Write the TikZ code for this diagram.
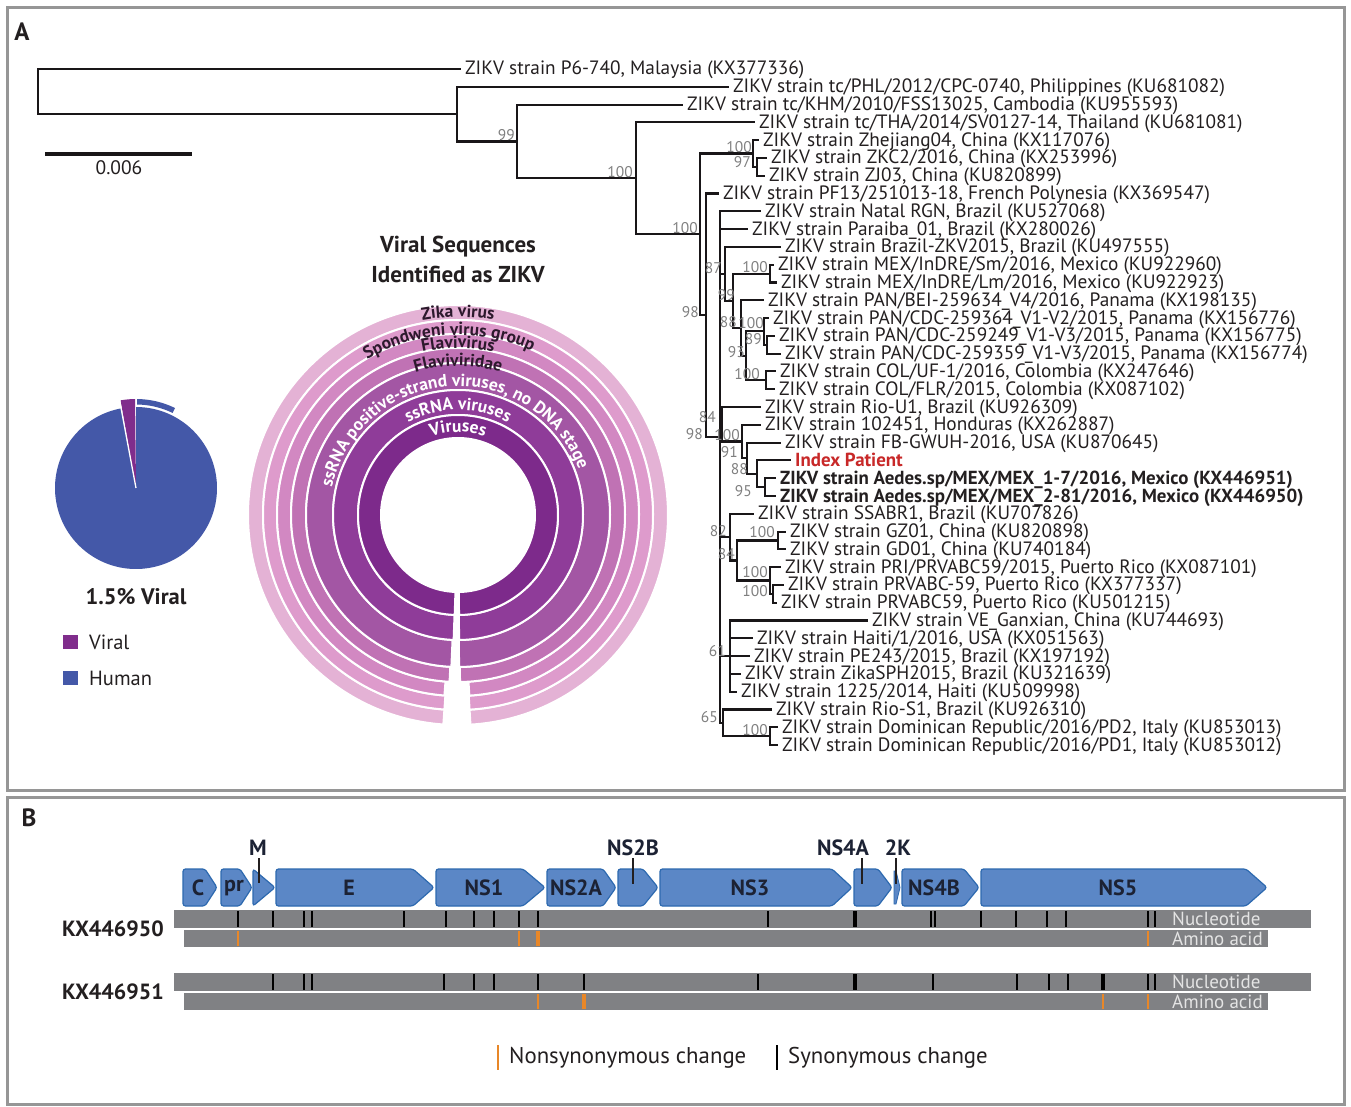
\documentclass[tikz,border=0pt]{standalone}
\usepackage{fontspec}
\setmainfont{PT Sans}
\usetikzlibrary{decorations.text}
\newcommand\zfs[1]{\fontsize{#1}{#1}\selectfont}
\newcommand\rlab{\bfseries\zfs{17.5}}
\definecolor{framec}{RGB}{150,150,150}
\definecolor{treec}{RGB}{25,22,24}
\definecolor{txtc}{RGB}{35,31,32}
\definecolor{labc}{RGB}{128,128,128}
\definecolor{idxred}{RGB}{200,40,40}
\definecolor{humanc}{RGB}{68,88,168}
\definecolor{viralc}{RGB}{128,45,140}
\definecolor{genefill}{RGB}{91,135,198}
\definecolor{geneline}{RGB}{45,105,175}
\definecolor{genetxt}{RGB}{28,34,52}
\definecolor{barc}{RGB}{128,129,132}
\definecolor{orangec}{RGB}{232,135,40}
\definecolor{bartxt}{RGB}{228,228,228}
\definecolor{rgA}{RGB}{125,42,139}
\definecolor{rgB}{RGB}{143,60,153}
\definecolor{rgC}{RGB}{163,86,164}
\definecolor{rgD}{RGB}{192,114,180}
\definecolor{rgE}{RGB}{210,136,194}
\definecolor{rgF}{RGB}{222,155,204}
\definecolor{rgG}{RGB}{228,178,213}
\definecolor{darklab}{RGB}{45,25,45}
\begin{document}
\begin{tikzpicture}[x=1pt,y=-1pt,
  br/.style={line width=2.1pt, draw=treec, line cap=rect},
  leaf/.style={anchor=west, inner sep=0pt, text height=15pt, text depth=3pt, font=\zfs{19.3}, text=txtc},
  bleaf/.style={leaf, font=\bfseries\zfs{18.9}},
  blab/.style={anchor=south east, inner sep=0pt, font=\zfs{15.5}, text=labc},
  panel/.style={draw=framec, line width=3pt},
  plabel/.style={font=\bfseries\zfs{25}, text=txtc, inner sep=0pt},
  ttl/.style={font=\bfseries\zfs{23}, text=txtc, inner sep=0pt},
  gene/.style={fill=genefill, draw=geneline, line width=1.2pt, rounded corners=2.5pt},
  glab/.style={font=\bfseries\zfs{22}, text=genetxt, inner sep=0pt},
  gmark/.style={line width=1.6pt, draw=txtc},
  bar/.style={fill=barc},
  bartext/.style={anchor=west, inner sep=0pt, font=\zfs{19}, text=bartxt},
  syntick/.style={line width=2pt, draw=black},
  synthick/.style={line width=3.6pt, draw=black},
  nontick/.style={line width=2pt, draw=orangec},
  nonthick/.style={line width=3.6pt, draw=orangec},
  legtext/.style={anchor=west, inner sep=0pt, font=\zfs{22.8}, text=txtc}
]
\useasboundingbox (0,0) rectangle (1351,1107);
\fill[white] (0,0) rectangle (1351,1107);

% panels
\draw[panel] (7,8) rectangle (1344,790);
\draw[panel] (7,797) rectangle (1344,1104);
\node[plabel] (pA) at (22,32) {A};
\node[plabel] (pB) at (29,818) {B};

% ---------------- tree leaves ----------------
\node[leaf] (L1) at (465,69.0) {ZIKV strain P6-740, Malaysia (KX377336)};
\node[leaf] (L2) at (733,86.8) {ZIKV strain tc/PHL/2012/CPC-0740, Philippines (KU681082)};
\node[leaf] (L3) at (687,104.6) {ZIKV strain tc/KHM/2010/FSS13025, Cambodia (KU955593)};
\node[leaf] (L4) at (759,122.4) {ZIKV strain tc/THA/2014/SV0127-14, Thailand (KU681081)};
\node[leaf] (L5) at (763,140.2) {ZIKV strain Zhejiang04, China (KX117076)};
\node[leaf] (L6) at (771,158.0) {ZIKV strain ZKC2/2016, China (KX253996)};
\node[leaf] (L7) at (769,175.7) {ZIKV strain ZJ03, China (KU820899)};
\node[leaf] (L8) at (723,193.5) {ZIKV strain PF13/251013-18, French Polynesia (KX369547)};
\node[leaf] (L9) at (765,211.3) {ZIKV strain Natal RGN, Brazil (KU527068)};
\node[leaf] (L10) at (752,229.1) {ZIKV strain Paraiba\_01, Brazil (KX280026)};
\node[leaf] (L11) at (785,246.9) {ZIKV strain Brazil-ZKV2015, Brazil (KU497555)};
\node[leaf] (L12) at (778,264.7) {ZIKV strain MEX/InDRE/Sm/2016, Mexico (KU922960)};
\node[leaf] (L13) at (781,282.5) {ZIKV strain MEX/InDRE/Lm/2016, Mexico (KU922923)};
\node[leaf] (L14) at (768,300.3) {ZIKV strain PAN/BEI-259634\_V4/2016, Panama (KX198135)};
\node[leaf] (L15) at (773,318.1) {ZIKV strain PAN/CDC-259364\_V1-V2/2015, Panama (KX156776)};
\node[leaf] (L16) at (779,335.9) {ZIKV strain PAN/CDC-259249\_V1-V3/2015, Panama (KX156775)};
\node[leaf] (L17) at (785,353.6) {ZIKV strain PAN/CDC-259359\_V1-V3/2015, Panama (KX156774)};
\node[leaf] (L18) at (780,371.4) {ZIKV strain COL/UF-1/2016, Colombia (KX247646)};
\node[leaf] (L19) at (779,389.2) {ZIKV strain COL/FLR/2015, Colombia (KX087102)};
\node[leaf] (L20) at (765,407.0) {ZIKV strain Rio-U1, Brazil (KU926309)};
\node[leaf] (L21) at (765,424.8) {ZIKV strain 102451, Honduras (KX262887)};
\node[leaf] (L22) at (785,442.6) {ZIKV strain FB-GWUH-2016, USA (KU870645)};
\node[bleaf, text=idxred] (L23) at (795,460.4) {Index Patient};
\node[bleaf] (L24) at (780,478.2) {ZIKV strain Aedes.sp/MEX/MEX\_1-7/2016, Mexico (KX446951)};
\node[bleaf] (L25) at (780,496.0) {ZIKV strain Aedes.sp/MEX/MEX\_2-81/2016, Mexico (KX446950)};
\node[leaf] (L26) at (758,513.8) {ZIKV strain SSABR1, Brazil (KU707826)};
\node[leaf] (L27) at (790,531.6) {ZIKV strain GZ01, China (KU820898)};
\node[leaf] (L28) at (790,549.3) {ZIKV strain GD01, China (KU740184)};
\node[leaf] (L29) at (785,567.1) {ZIKV strain PRI/PRVABC59/2015, Puerto Rico (KX087101)};
\node[leaf] (L30) at (788,584.9) {ZIKV strain PRVABC-59, Puerto Rico (KX377337)};
\node[leaf] (L31) at (781,602.7) {ZIKV strain PRVABC59, Puerto Rico (KU501215)};
\node[leaf] (L32) at (872,620.5) {ZIKV strain VE\_Ganxian, China (KU744693)};
\node[leaf] (L33) at (757,638.3) {ZIKV strain Haiti/1/2016, USA (KX051563)};
\node[leaf] (L34) at (754,656.1) {ZIKV strain PE243/2015, Brazil (KX197192)};
\node[leaf] (L35) at (745,673.9) {ZIKV strain ZikaSPH2015, Brazil (KU321639)};
\node[leaf] (L36) at (741,691.7) {ZIKV strain 1225/2014, Haiti (KU509998)};
\node[leaf] (L37) at (776,709.5) {ZIKV strain Rio-S1, Brazil (KU926310)};
\node[leaf] (L38) at (782,727.3) {ZIKV strain Dominican Republic/2016/PD2, Italy (KU853013)};
\node[leaf] (L39) at (782,745.0) {ZIKV strain Dominican Republic/2016/PD1, Italy (KU853012)};

% ---------------- internal nodes ----------------
\coordinate (R) at (38,91.6);
\coordinate (N2) at (457,114.2);
\coordinate (N3) at (517,141.5);
\coordinate (N4) at (636,178.4);
\coordinate (N5) at (700,234.4);
\coordinate (C1) at (753,153.5);
\coordinate (C2) at (757,166.9);
\coordinate (N6) at (706,315.3);
\coordinate (N7) at (720,437);
\coordinate (N8) at (725,273.9);
\coordinate (N9) at (733,300.9);
\coordinate (MEX) at (770,273.6);
\coordinate (N10) at (741,328.1);
\coordinate (N11) at (746,355.9);
\coordinate (PANc) at (764,331.4);
\coordinate (N12) at (767,344.8);
\coordinate (COLc) at (766,380.3);
\coordinate (N13) at (722,424.3);
\coordinate (N14) at (742,441.5);
\coordinate (N15) at (747,458.2);
\coordinate (N16) at (757,473.8);
\coordinate (N17) at (765,487.1);
\coordinate (N18) at (730,537.1);
\coordinate (N19) at (737,560.5);
\coordinate (CH2) at (778,540.5);
\coordinate (PRc) at (770,580.5);
\coordinate (N20) at (773,593.8);
\coordinate (N21) at (730,656.1);
\coordinate (N22) at (723,722.8);
\coordinate (DR) at (770,736.2);

\foreach \p/\c in {R/N2,N2/N3,N3/N4,N4/N5,N5/C1,N5/N6,C1/C2,N6/N7,N7/N8,N7/N13,N7/N18,N7/N21,N7/N22,N8/N9,N9/MEX,N9/N10,N10/N11,N11/PANc,N11/COLc,PANc/N12,N13/N14,N14/N15,N15/N16,N16/N17,N18/N19,N19/CH2,N19/PRc,PRc/N20,N22/DR}
  \draw[br] (\p) |- (\c);
\foreach \p/\c in {R/L1,N2/L2,N3/L3,N4/L4,C1/L5,C2/L6,C2/L7,N6/L8,N7/L9,N7/L10,N8/L11,MEX/L12,MEX/L13,N10/L14,PANc/L15,N12/L16,N12/L17,COLc/L18,COLc/L19,N13/L20,N14/L21,N15/L22,N16/L23,N17/L24,N17/L25,N18/L26,CH2/L27,CH2/L28,PRc/L29,N20/L30,N20/L31,N21/L32,N21/L33,N21/L34,N21/L35,N21/L36,N22/L37,DR/L38,DR/L39}
  \draw[br] (\p) |- ([xshift=-5pt]\c.west);

% bootstrap labels
\foreach \x/\y/\t in {515/141/99, 633/178/100, 698/234/100, 752/153/100, 751/168/97, 699/318/98,
  722/274/87, 768/273/100, 735/301/99, 737/328/88, 764/329/100, 762/345/89, 745/358/93, 760/380/100,
  716/423/84, 703/440/98, 740/441/100, 738/458/91, 748/475/88, 752/497/95,
  727/537/82, 775/538/100, 735/560/84, 768/578/100, 768/597/100, 726/657/61, 718/723/65, 768/736/100}
  \node[blab] at (\x,\y) {\t};

% scale bar
\coordinate (sb1) at (45,154);
\coordinate (sb2) at (192,154);
\draw[line width=4pt, draw=treec] (sb1) -- (sb2);
\node[font=\zfs{19.5}, text=txtc, inner sep=0pt] (sbl) at (119,168) {0.006};

% ---------------- sunburst ----------------
\node[ttl] (t1) at (458,247) {Viral Sequences};
\node[ttl] (t2) at (458,274) {Identified as ZIKV};
\begin{scope}[shift={(458,515)}]
  \path[fill=rgG, draw=white, line width=2pt] (-86.6:210pt) arc[start angle=-86.6, end angle=266, radius=210pt] -- (266:195pt) arc[start angle=266, end angle=-86.6, radius=195pt] -- cycle;
  \path[fill=rgF, draw=white, line width=2pt] (-86.6:195pt) arc[start angle=-86.6, end angle=266, radius=195pt] -- (266:181pt) arc[start angle=266, end angle=-86.6, radius=181pt] -- cycle;
  \path[fill=rgE, draw=white, line width=2pt] (-86.4:181pt) arc[start angle=-86.4, end angle=265.7, radius=181pt] -- (265.7:167pt) arc[start angle=265.7, end angle=-86.4, radius=167pt] -- cycle;
  \path[fill=rgD, draw=white, line width=2pt] (-89.3:167pt) arc[start angle=-89.3, end angle=267.1, radius=167pt] -- (267.1:152pt) arc[start angle=267.1, end angle=-89.3, radius=152pt] -- cycle;
  \path[fill=rgC, draw=white, line width=2pt] (-89.6:152pt) arc[start angle=-89.6, end angle=267.5, radius=152pt] -- (267.5:125pt) arc[start angle=267.5, end angle=-89.6, radius=125pt] -- cycle;
  \path[fill=rgB, draw=white, line width=2pt] (-89.5:125pt) arc[start angle=-89.5, end angle=268, radius=125pt] -- (268:100pt) arc[start angle=268, end angle=-89.5, radius=100pt] -- cycle;
  \path[fill=rgA, draw=white, line width=2pt] (-89.4:100pt) arc[start angle=-89.4, end angle=268.1, radius=100pt] -- (268.1:77pt) arc[start angle=268.1, end angle=-89.4, radius=77pt] -- cycle;

  \path[decorate, decoration={text along path, text align=center, text color=white, text={|\rlab|Viruses}}]
    (180:83pt) arc[start angle=180, end angle=0, radius=83pt];
  \path[decorate, decoration={text along path, text align=center, text color=white, text={|\rlab|ssRNA viruses}}]
    (180:105pt) arc[start angle=180, end angle=0, radius=105pt];
  \path[decorate, decoration={text along path, text align=center, text color=white, text={|\rlab|ssRNA positive-strand viruses, no DNA stage}}]
    (185:129pt) arc[start angle=185, end angle=3, radius=129pt];
  \path[decorate, decoration={text along path, text align=center, text color=darklab, text={|\rlab|Flaviviridae}}]
    (180:149pt) arc[start angle=180, end angle=0, radius=149pt];
  \path[decorate, decoration={text along path, text align=center, text color=darklab, text={|\rlab|Flavivirus}}]
    (180:167pt) arc[start angle=180, end angle=0, radius=167pt];
  \path[decorate, decoration={text along path, text align=center, text color=darklab, text={|\rlab|Spondweni virus group}}]
    (183:180pt) arc[start angle=183, end angle=3, radius=180pt];
  \path[decorate, decoration={text along path, text align=center, text color=darklab, text={|\rlab|Zika virus}}]
    (180:198pt) arc[start angle=180, end angle=0, radius=198pt];
\end{scope}

% ---------------- pie chart ----------------
\begin{scope}[shift={(136,488)}]
  \fill[humanc] (0,0) -- (100.3:81pt) arc[start angle=100.3, end angle=450, radius=81pt] -- cycle;
  \fill[viralc] (0,0) -- (90.6:89pt) arc[start angle=90.6, end angle=100, radius=89pt] -- cycle;
  \draw[white, line width=1.3pt] (0,0) -- (100.6:92pt);
  \fill[humanc] (64:83.5pt) arc[start angle=64, end angle=89.3, radius=83.5pt] -- (89.3:89pt) arc[start angle=89.3, end angle=64, radius=89pt] -- cycle;
\end{scope}
\node[font=\bfseries\zfs{22.5}, text=txtc, inner sep=0pt] (pct) at (136,597) {1.5\% Viral};
\fill[viralc] (63,635) rectangle (78,649);
\fill[humanc] (63,671) rectangle (78,685);
\node[legtext, font=\zfs{20.5}] (lv) at (89,642) {Viral};
\node[legtext, font=\zfs{20.5}] (lh) at (89,678) {Human};

% ---------------- panel B: genes ----------------
\path[gene] (183,869) -- (205,869) -- (217,887.5) -- (205,906) -- (183,906) -- cycle;
\path[gene] (221,869) -- (240,869) -- (252,887.5) -- (240,906) -- (221,906) -- cycle;
\path[gene] (253,869) -- (275,887.5) -- (253,906) -- cycle;
\path[gene] (276,869) -- (413,869) -- (434,887.5) -- (413,906) -- (276,906) -- cycle;
\path[gene] (436,869) -- (523,869) -- (545,887.5) -- (523,906) -- (436,906) -- cycle;
\path[gene] (547,869) -- (603,869) -- (616,887.5) -- (603,906) -- (547,906) -- cycle;
\path[gene] (618,869) -- (643,869) -- (658,887.5) -- (643,906) -- (618,906) -- cycle;
\path[gene] (660,869) -- (832,869) -- (852,887.5) -- (832,906) -- (660,906) -- cycle;
\path[gene] (854,869) -- (878,869) -- (892,887.5) -- (878,906) -- (854,906) -- cycle;
\path[gene, rounded corners=0pt, line width=0.8pt] (894,871) -- (896,871) -- (900,887.5) -- (896,904) -- (894,904) -- cycle;
\path[gene] (902,869) -- (964,869) -- (979,887.5) -- (964,906) -- (902,906) -- cycle;
\path[gene] (981,869) -- (1246,869) -- (1267,887.5) -- (1246,906) -- (981,906) -- cycle;

\node[glab] (gC) at (198,888) {C};
\node[glab] (gpr) at (234,888) {pr};
\node[glab] (gE) at (349,888) {E};
\node[glab] (gNS1) at (484,888) {NS1};
\node[glab] (gNS2A) at (576,888) {NS2A};
\node[glab] (gNS3) at (750,888) {NS3};
\node[glab] (gNS4B) at (934,888) {NS4B};
\node[glab] (gNS5) at (1118,888) {NS5};

\node[glab] (gM) at (258,848) {M};
\node[glab] (gNS2B) at (633,848) {NS2B};
\node[glab] (gNS4A) at (843,848) {NS4A};
\node[glab] (g2K) at (898,848) {2K};
\coordinate (mM) at (259,883);
\coordinate (mNS2B) at (633,884);
\coordinate (mNS4A) at (862,884);
\coordinate (m2K) at (896,884);
\draw[gmark] (259,858) -- (mM);
\draw[gmark] (633,858) -- (mNS2B);
\draw[gmark] (862,858) -- (mNS4A);
\draw[gmark] (896,858) -- (m2K);

% bars
\fill[bar] (174,910) rectangle (1311,928);
\fill[bar] (184,930) rectangle (1268,947);
\fill[bar] (174,973) rectangle (1311,991);
\fill[bar] (184,993) rectangle (1268,1010);
\node[bartext] (n1) at (1172,919) {Nucleotide};
\node[bartext] (a1) at (1172,938.5) {Amino acid};
\node[bartext] (n2) at (1172,982) {Nucleotide};
\node[bartext] (a2) at (1172,1001.5) {Amino acid};

% row 1 ticks
\foreach \x in {238,273,304,312,404,446,474,494,519,538,768,931,935,981,1016,1047,1066,1148,1155}
  \draw[syntick] (\x,911) -- (\x,927);
\draw[synthick] (855,911) -- (855,927);
\foreach \x in {238,519,1148}
  \draw[nontick] (\x,931) -- (\x,946);
\draw[nonthick] (538,931) -- (538,946);
% row 2 ticks
\foreach \x in {273,304,312,444,474,494,538,584,758,933,1017,1049,1068,1148,1155}
  \draw[syntick] (\x,974) -- (\x,990);
\draw[synthick] (855,974) -- (855,990);
\draw[synthick] (1103,974) -- (1103,990);
\foreach \x in {538,1103,1148}
  \draw[nontick] (\x,994) -- (\x,1009);
\draw[nonthick] (584,994) -- (584,1009);

\node[font=\bfseries\zfs{22}, text=txtc, inner sep=0pt] (k1) at (113,929) {KX446950};
\node[font=\bfseries\zfs{22}, text=txtc, inner sep=0pt] (k2) at (113,992) {KX446951};

% legend
\draw[line width=2.4pt, draw=orangec] (498,1045) -- (498,1070);
\node[legtext] (ln) at (509,1057.5) {Nonsynonymous change};
\draw[line width=2.4pt, draw=black] (777,1045) -- (777,1070);
\node[legtext] (ls) at (788,1057.5) {Synonymous change};
\end{tikzpicture}
\end{document}
